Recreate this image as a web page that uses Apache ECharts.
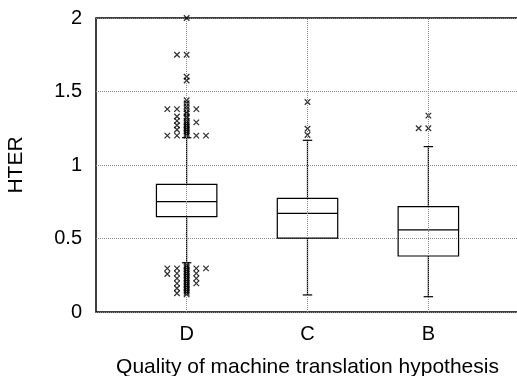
<!DOCTYPE html>
<html><head><meta charset="utf-8">
<script src="https://cdn.jsdelivr.net/npm/echarts@6/dist/echarts.min.js"></script>
<style>html,body{margin:0;padding:0;background:#fff}#c{width:517px;height:376px}</style>
</head><body><div id="c"></div>
<script>
// ---- data ----
const categories = ['D', 'C', 'B'];
const categoryX = [1, 2, 3];
const whiskerLow = [0.335, 0.116, 0.104];
const quartile1 = [0.649, 0.503, 0.381];
const medians = [0.751, 0.671, 0.558];
const quartile3 = [0.868, 0.773, 0.717];
const whiskerHigh = [1.186, 1.168, 1.125];
const yTicks = [0, 0.5, 1, 1.5, 2];
// outliers as [x, HTER]; x spread around category position (jittered columns)
const outliersD = [
  [1, 2.0], [0.92, 1.75], [1, 1.75], [1, 1.60], [1, 1.575],
  [1, 1.44], [1, 1.42], [1, 1.40], [1, 1.38], [1, 1.36], [1, 1.35], [1, 1.33], [1, 1.32],
  [1, 1.30], [1, 1.29], [1, 1.28], [1, 1.27], [1, 1.26], [1, 1.25], [1, 1.24], [1, 1.23],
  [1, 1.22], [1, 1.21], [1, 1.20],
  [0.92, 1.38], [0.92, 1.33], [0.92, 1.30], [0.92, 1.27], [0.92, 1.24], [0.92, 1.20],
  [0.84, 1.38], [0.84, 1.20],
  [1.08, 1.38], [1.08, 1.29], [1.08, 1.20],
  [1.16, 1.20],
  [1, 0.32], [1, 0.31], [1, 0.30], [1, 0.29], [1, 0.28], [1, 0.27], [1, 0.26], [1, 0.25],
  [1, 0.24], [1, 0.23], [1, 0.22], [1, 0.21], [1, 0.20], [1, 0.19], [1, 0.18], [1, 0.17],
  [1, 0.16], [1, 0.15], [1, 0.14], [1, 0.13], [1, 0.12],
  [0.92, 0.297], [0.92, 0.263], [0.92, 0.229], [0.92, 0.195], [0.92, 0.161], [0.92, 0.127],
  [0.84, 0.297], [0.84, 0.258],
  [1.08, 0.297], [1.08, 0.263], [1.08, 0.229], [1.08, 0.195],
  [1.16, 0.297]
];
const outliersC = [[2, 1.429], [2, 1.247], [2, 1.204]];
const outliersB = [[3, 1.336], [3, 1.25], [2.92, 1.25]];

const boxData = categories.map((c, i) => [categoryX[i], whiskerLow[i], quartile1[i], medians[i], quartile3[i], whiskerHigh[i]]);
const allOutliers = outliersD.concat(outliersC, outliersB);

const chart = echarts.init(document.getElementById('c'));
const font = 'Liberation Sans, Arial, Helvetica, sans-serif';

function renderBox(params, api) {
  const x = api.value(0);
  const lo = api.coord([x, api.value(1)]);
  const q1 = api.coord([x, api.value(2)]);
  const md = api.coord([x, api.value(3)]);
  const q3 = api.coord([x, api.value(4)]);
  const hi = api.coord([x, api.value(5)]);
  const half = api.size([0.25, 0])[0];
  const cap = api.size([0.039, 0])[0];
  const cx = lo[0];
  const st = { stroke: '#000', lineWidth: 1.2, fill: 'none' };
  return {
    type: 'group',
    children: [
      { type: 'rect', shape: { x: cx - half, y: q3[1], width: 2 * half, height: q1[1] - q3[1] }, style: st },
      { type: 'line', shape: { x1: cx - half, y1: md[1], x2: cx + half, y2: md[1] }, style: st },
      { type: 'line', shape: { x1: cx, y1: q3[1], x2: cx, y2: hi[1] }, style: st },
      { type: 'line', shape: { x1: cx, y1: q1[1], x2: cx, y2: lo[1] }, style: st },
      { type: 'line', shape: { x1: cx - cap, y1: hi[1], x2: cx + cap, y2: hi[1] }, style: st },
      { type: 'line', shape: { x1: cx - cap, y1: lo[1], x2: cx + cap, y2: lo[1] }, style: st }
    ]
  };
}

chart.setOption({
  animation: false,
  backgroundColor: '#fff',
  grid: { left: 96, top: 18, bottom: 64, right: -2, outerBoundsMode: 'none', containLabel: false,
          show: true, borderColor: '#000', borderWidth: 1.5, backgroundColor: 'transparent' },
  xAxis: {
    type: 'value', min: 0.25, max: 3.75,
    name: 'Quality of machine translation hypothesis', nameLocation: 'middle', nameGap: 45,
    nameTextStyle: { fontSize: 21, color: '#000', fontFamily: font },
    axisLine: { show: false }, axisTick: { show: false }, splitLine: { show: false },
    axisLabel: {
      customValues: categoryX,
      formatter: v => { const i = categoryX.indexOf(v); return i >= 0 ? categories[i] : ''; },
      fontSize: 20, color: '#000', fontFamily: font, margin: 12
    }
  },
  yAxis: {
    type: 'value', min: 0, max: 2, interval: 0.5,
    name: 'HTER', nameLocation: 'middle', nameGap: 69,
    nameTextStyle: { fontSize: 21, color: '#000', fontFamily: font },
    axisLine: { show: false }, axisTick: { show: false },
    splitLine: { show: true, lineStyle: { type: 'dotted', color: '#888', width: 1 } },
    axisLabel: {
      formatter: v => (yTicks.indexOf(v) >= 0 ? String(v) : ''),
      fontSize: 20, color: '#000', fontFamily: font, margin: 14
    }
  },
  series: [
    {
      type: 'scatter', data: allOutliers, symbol: 'path://M0 0L10 10M10 0L0 10', symbolSize: 5.5,
      itemStyle: { color: 'none', borderColor: '#000', borderWidth: 1.3 },
      silent: true, z: 3,
      markLine: {
        silent: true, symbol: 'none', label: { show: false },
        lineStyle: { type: 'dotted', color: '#888', width: 1 },
        data: categoryX.map(v => ({ xAxis: v }))
      }
    },
    {
      type: 'custom', data: boxData, renderItem: renderBox, z: 4, silent: true,
      encode: { x: 0, y: [1, 2, 3, 4, 5] }
    }
  ]
});
</script></body></html>
